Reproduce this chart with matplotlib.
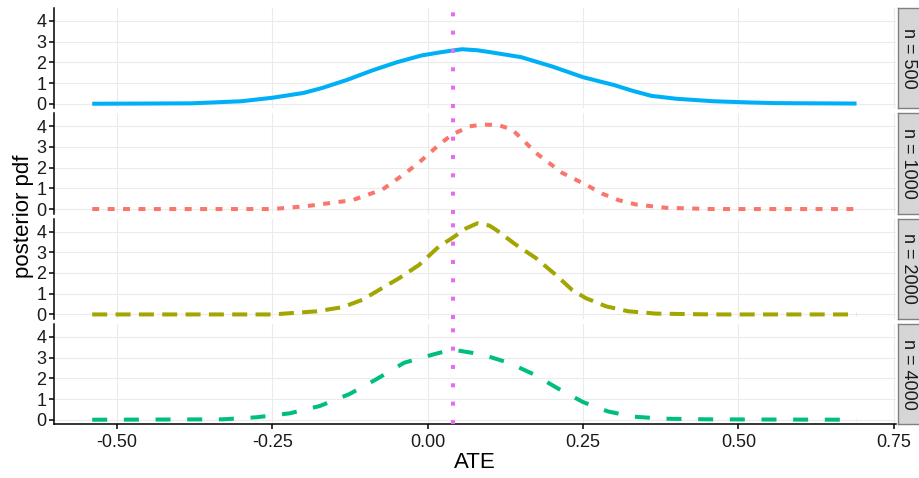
import matplotlib.pyplot as plt
import numpy as np

plt.rcParams['font.family'] = ['Liberation Sans', 'DejaVu Sans']
plt.rcParams['lines.scale_dashes'] = False
plt.rcParams['axes.unicode_minus'] = False

# posterior densities, one curve per sample size
x500 = [-0.54, -0.45, -0.38, -0.30, -0.25, -0.20, -0.17, -0.13, -0.09, -0.05, -0.01, 0.02,
        0.04, 0.055, 0.08, 0.10, 0.15, 0.20, 0.25, 0.30, 0.33, 0.36, 0.40, 0.46, 0.52, 0.56, 0.62, 0.69]
y500 = [0.0, 0.01, 0.02, 0.12, 0.29, 0.52, 0.76, 1.15, 1.6, 2.0, 2.33, 2.48,
        2.57, 2.63, 2.58, 2.49, 2.25, 1.80, 1.28, 0.9, 0.62, 0.38, 0.24, 0.12, 0.06, 0.03, 0.02, 0.01]

x1000 = [-0.54, -0.25, -0.195, -0.121, -0.073, -0.035, -0.009, 0.018, 0.039, 0.067, 0.09, 0.115,
         0.136, 0.158, 0.174, 0.195, 0.216, 0.238, 0.259, 0.28, 0.307, 0.335, 0.383, 0.457, 0.69]
y1000 = [0.0, 0.0, 0.14, 0.43, 0.94, 1.75, 2.38, 3.1, 3.59, 3.99, 4.08, 4.04,
         3.83, 3.19, 2.71, 2.23, 1.75, 1.42, 1.1, 0.75, 0.43, 0.22, 0.06, 0.0, 0.0]

x2000 = [-0.54, -0.25, -0.179, -0.137, -0.105, -0.078, -0.046, -0.014, 0.018, 0.039, 0.062, 0.080,
         0.099, 0.110, 0.142, 0.174, 0.206, 0.232, 0.254, 0.287, 0.323, 0.367, 0.457, 0.69]
y2000 = [0.0, 0.0, 0.15, 0.35, 0.71, 1.19, 1.75, 2.39, 3.28, 3.68, 4.16, 4.4,
         4.29, 4.08, 3.36, 2.72, 1.91, 1.19, 0.79, 0.39, 0.15, 0.04, 0.0, 0.0]

x4000 = [-0.54, -0.33, -0.275, -0.222, -0.174, -0.126, -0.083, -0.038, 0.010, 0.039, 0.071, 0.099,
         0.13, 0.17, 0.21, 0.25, 0.29, 0.33, 0.38, 0.45, 0.55, 0.69]
y4000 = [0.0, 0.02, 0.12, 0.31, 0.66, 1.24, 1.95, 2.75, 3.16, 3.39, 3.23, 3.04,
         2.75, 2.2, 1.5, 0.85, 0.4, 0.15, 0.05, 0.02, 0.01, 0.0]

ate_true = 0.04
panel_labels = ['n = 500', 'n = 1000', 'n = 2000', 'n = 4000']
xticks = [-0.50, -0.25, 0.00, 0.25, 0.50, 0.75]
yticks = [0, 1, 2, 3, 4]

curves = [(x500, y500), (x1000, y1000), (x2000, y2000), (x4000, y4000)]
colors = ['#00B0F6', '#F8766D', '#A3A500', '#00BF7D']
dashes = [None, (0, (5.0, 6.1)), (0, (10.8, 6.0)), (0, (10.8, 12.0))]

W, H = 920, 478
fig = plt.figure(figsize=(W / 100, H / 100), dpi=100)

left, right = 54, 896
tops = [8, 113.3, 218.7, 324]
ph = 100.3

for i, (xs, ys) in enumerate(curves):
    top = tops[i]
    ax = fig.add_axes([left / W, 1 - (top + ph) / H, (right - left) / W, ph / H])
    ax.set_xlim(-0.6015, 0.7535)
    ax.set_ylim(-0.22, 4.62)
    for g in xticks:
        ax.axvline(g, color='#EBEBEB', lw=0.8, zorder=0)
    for g in yticks:
        ax.axhline(g, color='#EBEBEB', lw=0.8, zorder=0)
    if dashes[i] is None:
        ax.plot(xs, ys, color=colors[i], lw=2.9, solid_capstyle='butt', zorder=3)
    else:
        ax.plot(xs, ys, color=colors[i], lw=2.9, linestyle=dashes[i], dash_capstyle='butt', zorder=3)
    ax.axvline(ate_true, color='#E76BF3', lw=2.9, linestyle=(0, (2.9, 10.3)), zorder=4)

    for s in ['top', 'right']:
        ax.spines[s].set_visible(False)
    ax.spines['left'].set_linewidth(1.1)
    ax.set_yticks(yticks)
    ax.set_xticks(xticks)
    ax.tick_params(axis='y', length=3.5, width=1.1, pad=2, labelsize=13, labelcolor='#1a1a1a')
    if i < 3:
        ax.spines['bottom'].set_visible(False)
        ax.tick_params(axis='x', length=0, labelbottom=False)
    else:
        ax.spines['bottom'].set_linewidth(1.1)
        ax.tick_params(axis='x', length=3.5, width=1.1, pad=3.5, labelsize=13, labelcolor='#1a1a1a')
        ax.set_xticklabels(['%.2f' % t for t in xticks])
        ax.set_xlabel('ATE', fontsize=16, labelpad=1)

    sax = fig.add_axes([898 / W, 1 - (top + ph) / H, 24 / W, ph / H])
    sax.set_facecolor('#D6D6D6')
    sax.set_xticks([])
    sax.set_yticks([])
    for s in sax.spines.values():
        s.set_color('#808080')
        s.set_linewidth(1.0)
    sax.text(0.45, 0.5, panel_labels[i], rotation=-90, ha='center', va='center',
             fontsize=13, color='#1a1a1a', transform=sax.transAxes)

fig.text(24 / W, 1 - 216 / H, 'posterior pdf', rotation=90, ha='center', va='center', fontsize=16)

fig.savefig('out.png', dpi=100)
